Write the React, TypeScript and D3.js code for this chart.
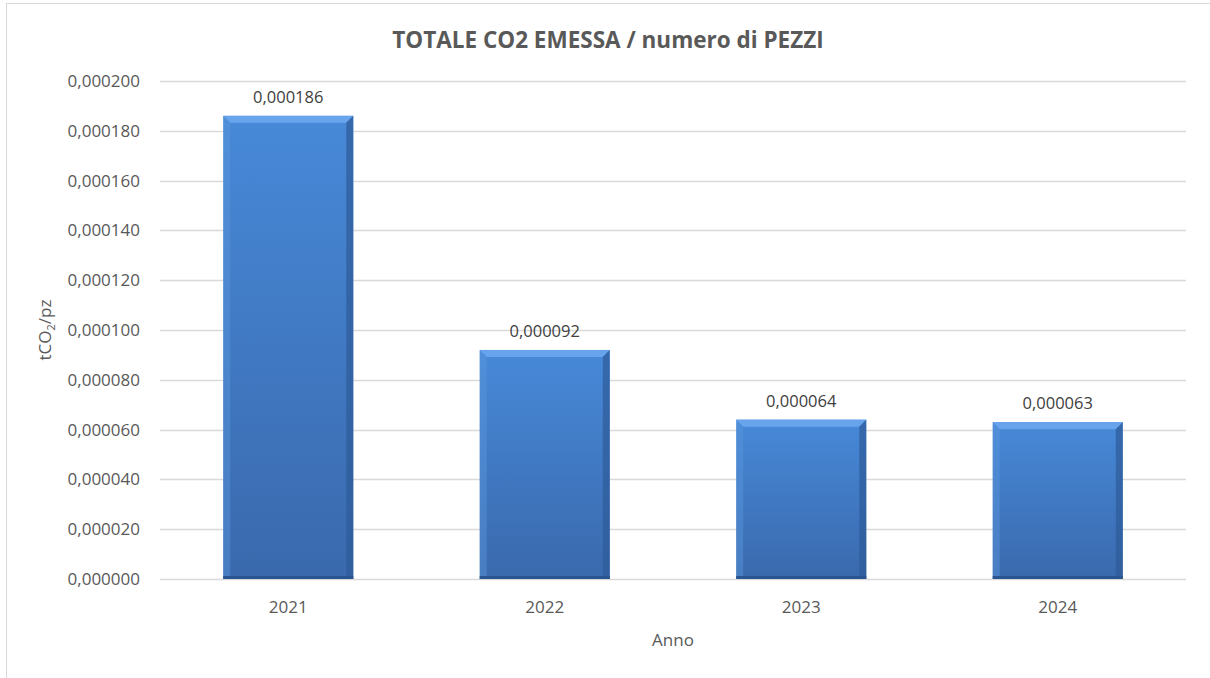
import React, { useEffect, useRef } from 'react';
import * as d3 from 'd3';

const years = ['2021', '2022', '2023', '2024'];
const values = [0.000186, 0.000092, 0.000064, 0.000063];
const yTicks = [0, 0.00002, 0.00004, 0.00006, 0.00008, 0.0001, 0.00012, 0.00014, 0.00016, 0.00018, 0.0002];

const FONT = "'Open Sans', 'Noto Sans', sans-serif";
const TEXT = '#595959';

const fmt = (v: number) => v.toFixed(6).replace('.', ',');

const App = () => {
  const svgRef = useRef<SVGSVGElement>(null);

  useEffect(() => {
    if (!svgRef.current) return;
    const width = 1210;
    const height = 678;
    const svg = d3.select(svgRef.current);
    svg.selectAll('*').remove();
    svg.attr('width', width).attr('height', height);

    // gradients for the bevelled bars
    const defs = svg.append('defs');
    const grad = defs.append('linearGradient')
      .attr('id', 'barFill').attr('x1', 0).attr('y1', 0).attr('x2', 0).attr('y2', 1);
    grad.append('stop').attr('offset', '0%').attr('stop-color', '#4789d8');
    grad.append('stop').attr('offset', '100%').attr('stop-color', '#3a69ad');

    // chart frame
    svg.append('rect')
      .attr('x', 6.5).attr('y', 3.5)
      .attr('width', width + 10).attr('height', height + 10)
      .attr('fill', '#fff').attr('stroke', '#d9d9d9');

    const margin = { top: 81, right: 24, bottom: 99, left: 160 };
    const x = d3.scaleBand()
      .domain(years)
      .range([margin.left, width - margin.right])
      .paddingInner(0.493)
      .paddingOuter(0.2465);
    const y = d3.scaleLinear()
      .domain([0, 0.0002])
      .range([height - margin.bottom, margin.top]);

    // gridlines
    svg.append('g')
      .selectAll('line')
      .data(yTicks)
      .join('line')
      .attr('x1', margin.left)
      .attr('x2', width - margin.right)
      .attr('y1', d => Math.round(y(d)) + 0.5)
      .attr('y2', d => Math.round(y(d)) + 0.5)
      .attr('stroke', '#d9d9d9')
      .attr('stroke-width', 1.5);

    // y tick labels
    svg.append('g')
      .selectAll('text')
      .data(yTicks)
      .join('text')
      .attr('x', 140)
      .attr('y', d => y(d))
      .attr('dy', '0.35em')
      .attr('text-anchor', 'end')
      .attr('font-family', FONT)
      .attr('font-size', '17px')
      .attr('fill', TEXT)
      .text(d => fmt(d));

    // bars
    const bars = svg.append('g')
      .selectAll('g')
      .data(years.map((yr, i) => ({ yr, v: values[i] })))
      .join('g');

    const b = 7; // bevel size
    bars.append('rect')
      .attr('x', d => x(d.yr)!)
      .attr('y', d => y(d.v))
      .attr('width', x.bandwidth())
      .attr('height', d => y(0) - y(d.v))
      .attr('fill', 'url(#barFill)');

    // top bevel
    bars.append('path')
      .attr('d', d => {
        const x0 = x(d.yr)!, x1 = x0 + x.bandwidth(), y0 = y(d.v);
        return `M${x0},${y0}L${x1},${y0}L${x1 - b},${y0 + b}L${x0 + b},${y0 + b}Z`;
      })
      .attr('fill', '#6aa7ee').attr('opacity', 0.9);
    // left bevel
    bars.append('path')
      .attr('d', d => {
        const x0 = x(d.yr)!, y0 = y(d.v), y1 = y(0);
        return `M${x0},${y0}L${x0 + b},${y0 + b}L${x0 + b},${y1 - 2}L${x0},${y1}Z`;
      })
      .attr('fill', '#5a96dc').attr('opacity', 0.45);
    // right bevel
    bars.append('path')
      .attr('d', d => {
        const x1 = x(d.yr)! + x.bandwidth(), y0 = y(d.v), y1 = y(0);
        return `M${x1},${y0}L${x1 - b},${y0 + b}L${x1 - b},${y1 - 2}L${x1},${y1}Z`;
      })
      .attr('fill', '#2d5b98').attr('opacity', 0.7);
    // bottom edge
    bars.append('rect')
      .attr('x', d => x(d.yr)!)
      .attr('y', y(0) - 3)
      .attr('width', x.bandwidth())
      .attr('height', 3)
      .attr('fill', '#2b5590');

    // value labels
    bars.append('text')
      .attr('x', d => x(d.yr)! + x.bandwidth() / 2)
      .attr('y', d => y(d.v) - 13)
      .attr('text-anchor', 'middle')
      .attr('font-family', FONT)
      .attr('font-size', '16.5px')
      .attr('fill', '#404040')
      .text(d => fmt(d.v));

    // x tick labels
    svg.append('g')
      .selectAll('text')
      .data(years)
      .join('text')
      .attr('x', d => x(d)! + x.bandwidth() / 2)
      .attr('y', 613)
      .attr('text-anchor', 'middle')
      .attr('font-family', FONT)
      .attr('font-size', '17px')
      .attr('fill', TEXT)
      .text(d => d);

    // axis titles
    svg.append('text')
      .attr('x', (margin.left + width - margin.right) / 2)
      .attr('y', 646)
      .attr('text-anchor', 'middle')
      .attr('font-family', FONT)
      .attr('font-size', '17px')
      .attr('fill', TEXT)
      .text('Anno');

    const yt = svg.append('text')
      .attr('transform', 'translate(51, 330) rotate(-90)')
      .attr('text-anchor', 'middle')
      .attr('font-family', FONT)
      .attr('font-size', '17px')
      .attr('fill', TEXT);
    yt.append('tspan').text('tCO');
    yt.append('tspan').attr('font-size', '11px').attr('dy', 4).text('2');
    yt.append('tspan').attr('dy', -4).text('/pz');

    // title
    svg.append('text')
      .attr('x', 608)
      .attr('y', 48)
      .attr('text-anchor', 'middle')
      .attr('font-family', FONT)
      .attr('font-size', '22.5px')
      .attr('font-weight', 'bold')
      .attr('fill', TEXT)
      .text('TOTALE CO2 EMESSA / numero di PEZZI');
  }, []);

  return (
    <div style={{ position: 'fixed', left: 0, top: 0 }}>
      <svg ref={svgRef} style={{ display: 'block' }}></svg>
    </div>
  );
};

export default App;
